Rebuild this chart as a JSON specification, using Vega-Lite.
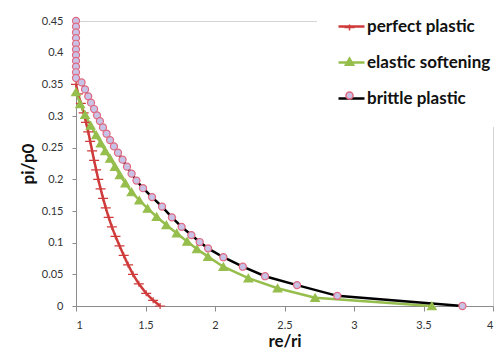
{
  "$schema": "https://vega.github.io/schema/vega-lite/v6.json",
  "width": 417,
  "height": 285,
  "autosize": "none",
  "padding": {"left": 76, "top": 21, "right": 7, "bottom": 50},
  "background": "white",
  "view": {"stroke": "#d4d4d4", "strokeWidth": 1},
  "config": {
    "font": "Lato",
    "view": {"stroke": "#d4d4d4", "strokeWidth": 1},
    "axis": {
      "grid": false,
      "domainColor": "#8c8c8c",
      "tickColor": "#8c8c8c",
      "tickSize": 4,
      "labelFont": "Lato",
      "labelFontSize": 11,
      "labelColor": "#333333",
      "titleFont": "Lato",
      "titleFontWeight": "bold",
      "titleFontSize": 17,
      "titleColor": "#111111"
    }
  },
  "data": {
    "values": [
      {"s": "perfect plastic", "i": 0, "x": 1.0, "y": 0.35},
      {"s": "perfect plastic", "i": 1, "x": 1.015, "y": 0.335},
      {"s": "perfect plastic", "i": 2, "x": 1.035, "y": 0.32},
      {"s": "perfect plastic", "i": 3, "x": 1.055, "y": 0.305},
      {"s": "perfect plastic", "i": 4, "x": 1.072, "y": 0.29},
      {"s": "perfect plastic", "i": 5, "x": 1.088, "y": 0.275},
      {"s": "perfect plastic", "i": 6, "x": 1.102, "y": 0.26},
      {"s": "perfect plastic", "i": 7, "x": 1.116, "y": 0.245},
      {"s": "perfect plastic", "i": 8, "x": 1.13, "y": 0.23},
      {"s": "perfect plastic", "i": 9, "x": 1.145, "y": 0.215},
      {"s": "perfect plastic", "i": 10, "x": 1.16, "y": 0.2},
      {"s": "perfect plastic", "i": 11, "x": 1.177, "y": 0.185},
      {"s": "perfect plastic", "i": 12, "x": 1.195, "y": 0.17},
      {"s": "perfect plastic", "i": 13, "x": 1.214, "y": 0.155},
      {"s": "perfect plastic", "i": 14, "x": 1.235, "y": 0.14},
      {"s": "perfect plastic", "i": 15, "x": 1.258, "y": 0.125},
      {"s": "perfect plastic", "i": 16, "x": 1.284, "y": 0.11},
      {"s": "perfect plastic", "i": 17, "x": 1.313, "y": 0.095},
      {"s": "perfect plastic", "i": 18, "x": 1.343, "y": 0.08},
      {"s": "perfect plastic", "i": 19, "x": 1.375, "y": 0.065},
      {"s": "perfect plastic", "i": 20, "x": 1.41, "y": 0.05},
      {"s": "perfect plastic", "i": 21, "x": 1.452, "y": 0.035},
      {"s": "perfect plastic", "i": 22, "x": 1.505, "y": 0.02},
      {"s": "perfect plastic", "i": 23, "x": 1.555, "y": 0.009},
      {"s": "perfect plastic", "i": 24, "x": 1.605, "y": 0.0},

      {"s": "elastic softening", "i": 0, "x": 1.0, "y": 0.338},
      {"s": "elastic softening", "i": 1, "x": 1.03, "y": 0.319},
      {"s": "elastic softening", "i": 2, "x": 1.065, "y": 0.302},
      {"s": "elastic softening", "i": 3, "x": 1.105, "y": 0.285},
      {"s": "elastic softening", "i": 4, "x": 1.145, "y": 0.27},
      {"s": "elastic softening", "i": 5, "x": 1.178, "y": 0.257},
      {"s": "elastic softening", "i": 6, "x": 1.21, "y": 0.245},
      {"s": "elastic softening", "i": 7, "x": 1.245, "y": 0.233},
      {"s": "elastic softening", "i": 8, "x": 1.28, "y": 0.22},
      {"s": "elastic softening", "i": 9, "x": 1.315, "y": 0.207},
      {"s": "elastic softening", "i": 10, "x": 1.355, "y": 0.194},
      {"s": "elastic softening", "i": 11, "x": 1.4, "y": 0.18},
      {"s": "elastic softening", "i": 12, "x": 1.455, "y": 0.167},
      {"s": "elastic softening", "i": 13, "x": 1.515, "y": 0.154},
      {"s": "elastic softening", "i": 14, "x": 1.58, "y": 0.141},
      {"s": "elastic softening", "i": 15, "x": 1.65, "y": 0.128},
      {"s": "elastic softening", "i": 16, "x": 1.725, "y": 0.115},
      {"s": "elastic softening", "i": 17, "x": 1.8, "y": 0.102},
      {"s": "elastic softening", "i": 18, "x": 1.87, "y": 0.09},
      {"s": "elastic softening", "i": 19, "x": 1.95, "y": 0.078},
      {"s": "elastic softening", "i": 20, "x": 2.06, "y": 0.062},
      {"s": "elastic softening", "i": 21, "x": 2.24, "y": 0.044},
      {"s": "elastic softening", "i": 22, "x": 2.45, "y": 0.028},
      {"s": "elastic softening", "i": 23, "x": 2.72, "y": 0.013},
      {"s": "elastic softening", "i": 24, "x": 3.56, "y": 0.0},

      {"s": "brittle plastic", "i": 0, "x": 1.0, "y": 0.45},
      {"s": "brittle plastic", "i": 1, "x": 1.0, "y": 0.441},
      {"s": "brittle plastic", "i": 2, "x": 1.0, "y": 0.432},
      {"s": "brittle plastic", "i": 3, "x": 1.0, "y": 0.423},
      {"s": "brittle plastic", "i": 4, "x": 1.0, "y": 0.414},
      {"s": "brittle plastic", "i": 5, "x": 1.0, "y": 0.405},
      {"s": "brittle plastic", "i": 6, "x": 1.0, "y": 0.396},
      {"s": "brittle plastic", "i": 7, "x": 1.0, "y": 0.387},
      {"s": "brittle plastic", "i": 8, "x": 1.0, "y": 0.378},
      {"s": "brittle plastic", "i": 9, "x": 1.0, "y": 0.369},
      {"s": "brittle plastic", "i": 10, "x": 1.0, "y": 0.36},
      {"s": "brittle plastic", "i": 11, "x": 1.04, "y": 0.353},
      {"s": "brittle plastic", "i": 12, "x": 1.065, "y": 0.342},
      {"s": "brittle plastic", "i": 13, "x": 1.088, "y": 0.331},
      {"s": "brittle plastic", "i": 14, "x": 1.108, "y": 0.321},
      {"s": "brittle plastic", "i": 15, "x": 1.13, "y": 0.311},
      {"s": "brittle plastic", "i": 16, "x": 1.151, "y": 0.301},
      {"s": "brittle plastic", "i": 17, "x": 1.172, "y": 0.292},
      {"s": "brittle plastic", "i": 18, "x": 1.194, "y": 0.282},
      {"s": "brittle plastic", "i": 19, "x": 1.22, "y": 0.272},
      {"s": "brittle plastic", "i": 20, "x": 1.245, "y": 0.262},
      {"s": "brittle plastic", "i": 21, "x": 1.273, "y": 0.252},
      {"s": "brittle plastic", "i": 22, "x": 1.302, "y": 0.242},
      {"s": "brittle plastic", "i": 23, "x": 1.335, "y": 0.231},
      {"s": "brittle plastic", "i": 24, "x": 1.367, "y": 0.22},
      {"s": "brittle plastic", "i": 25, "x": 1.4, "y": 0.209},
      {"s": "brittle plastic", "i": 26, "x": 1.435, "y": 0.198},
      {"s": "brittle plastic", "i": 27, "x": 1.482, "y": 0.186},
      {"s": "brittle plastic", "i": 28, "x": 1.547, "y": 0.172},
      {"s": "brittle plastic", "i": 29, "x": 1.619, "y": 0.157},
      {"s": "brittle plastic", "i": 30, "x": 1.69, "y": 0.14},
      {"s": "brittle plastic", "i": 31, "x": 1.76, "y": 0.125},
      {"s": "brittle plastic", "i": 32, "x": 1.83, "y": 0.112},
      {"s": "brittle plastic", "i": 33, "x": 1.89, "y": 0.101},
      {"s": "brittle plastic", "i": 34, "x": 1.95, "y": 0.091},
      {"s": "brittle plastic", "i": 35, "x": 2.06, "y": 0.077},
      {"s": "brittle plastic", "i": 36, "x": 2.2, "y": 0.062},
      {"s": "brittle plastic", "i": 37, "x": 2.36, "y": 0.047},
      {"s": "brittle plastic", "i": 38, "x": 2.59, "y": 0.033},
      {"s": "brittle plastic", "i": 39, "x": 2.88, "y": 0.016},
      {"s": "brittle plastic", "i": 40, "x": 3.78, "y": 0.0}
    ]
  },
  "encoding": {
    "x": {
      "field": "x",
      "type": "quantitative",
      "scale": {"domain": [1, 4], "nice": false, "zero": false},
      "axis": {
        "title": "re/ri",
        "values": [1, 1.5, 2, 2.5, 3, 3.5, 4],
        "format": "~g",
        "tickSize": 5,
        "labelPadding": 8,
        "titlePadding": 3
      }
    },
    "y": {
      "field": "y",
      "type": "quantitative",
      "scale": {"domain": [0, 0.45], "nice": false, "zero": false},
      "axis": {
        "title": "pi/p0",
        "values": [0, 0.05, 0.1, 0.15, 0.2, 0.25, 0.3, 0.35, 0.4, 0.45],
        "format": "~g",
        "labelPadding": 9,
        "titlePadding": 4
      }
    }
  },
  "layer": [
    {
      "mark": {"type": "line", "strokeWidth": 2.5},
      "encoding": {
        "order": {"field": "i", "type": "quantitative"},
        "color": {
          "field": "s",
          "type": "nominal",
          "sort": ["perfect plastic", "elastic softening", "brittle plastic"],
          "scale": {"range": ["#cf3b3b", "#96be4c", "#000000"]},
          "legend": {
            "title": null,
            "orient": "none",
            "legendX": 241,
            "legendY": -29,
            "fillColor": "white",
            "padding": 20,
            "labelFont": "Lato",
            "labelFontSize": 17,
            "labelFontWeight": "bold",
            "labelColor": "#111111",
            "labelLimit": 300,
            "symbolType": "stroke",
            "symbolSize": 676,
            "symbolStrokeWidth": 2.5,
            "labelOffset": 1,
            "rowPadding": 13
          }
        }
      }
    },
    {
      "mark": {"type": "point", "filled": true, "opacity": 1, "strokeWidth": 1.2},
      "encoding": {
        "fill": {
          "field": "s",
          "type": "nominal",
          "scale": {
            "domain": ["perfect plastic", "elastic softening", "brittle plastic"],
            "range": ["transparent", "#96be4c", "#c8c2e6"]
          },
          "legend": {"title": null, "orient": "none", "legendX": 265, "legendY": -2, "padding": 0, "labelExpr": "''", "labelFontSize": 17, "labelOffset": 0, "rowPadding": 16}
        },
        "stroke": {
          "field": "s",
          "type": "nominal",
          "scale": {
            "domain": ["perfect plastic", "elastic softening", "brittle plastic"],
            "range": ["#cf3b3b", "#96be4c", "#e0687f"]
          },
          "legend": {"title": null, "orient": "none", "legendX": 265, "legendY": -2, "padding": 0, "labelExpr": "''", "labelFontSize": 17, "labelOffset": 0, "rowPadding": 16}
        },
        "size": {
          "field": "s",
          "type": "nominal",
          "scale": {
            "domain": ["perfect plastic", "elastic softening", "brittle plastic"],
            "range": [100, 50, 45]
          },
          "legend": {"title": null, "orient": "none", "legendX": 265, "legendY": -2, "padding": 0, "labelExpr": "''", "labelFontSize": 17, "labelOffset": 0, "rowPadding": 16}
        },
        "shape": {
          "field": "s",
          "type": "nominal",
          "scale": {
            "domain": ["perfect plastic", "elastic softening", "brittle plastic"],
            "range": ["M-1,0H1M0,-0.6V0.6", "triangle-up", "circle"]
          },
          "legend": {"title": null, "orient": "none", "legendX": 265, "legendY": -2, "padding": 0, "labelExpr": "''", "labelFontSize": 17, "labelOffset": 0, "rowPadding": 16}
        }
      }
    }
  ]
}
